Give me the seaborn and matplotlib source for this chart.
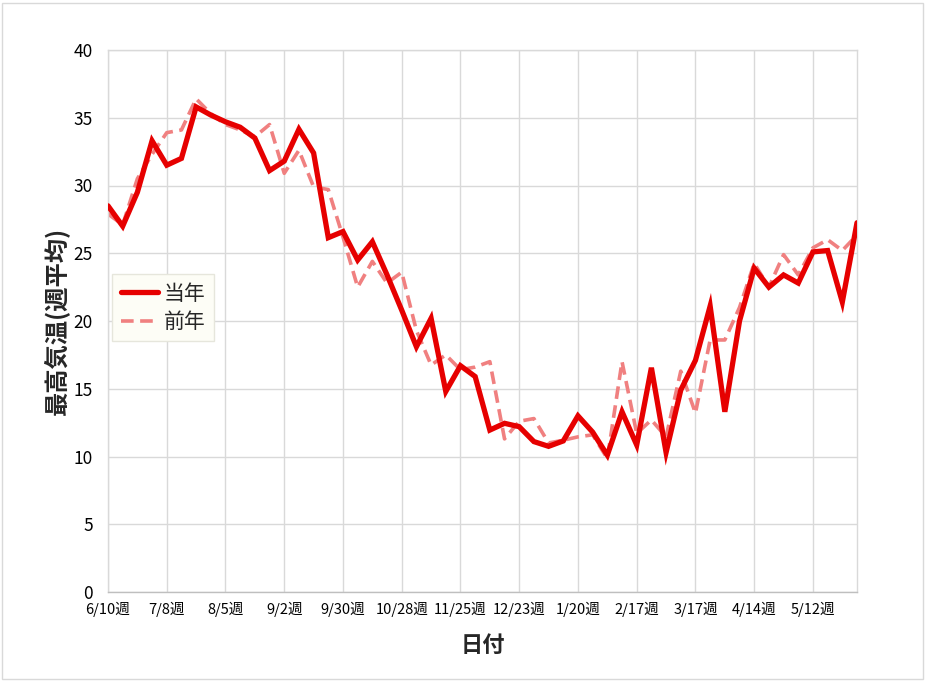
import matplotlib
matplotlib.use("Agg")
import matplotlib.pyplot as plt
from matplotlib.patches import Rectangle
import seaborn as sns
import pandas as pd
import numpy as np

# ---- data ----
weeks = pd.date_range("2024-06-10", periods=52, freq="7D")
week_labels = [f"{d.month}/{d.day}週" for d in weeks]

current_year = [28.5, 27.0, 29.5, 33.3, 31.5, 32.0, 35.8, 35.2, 34.7, 34.3,
                33.5, 31.1, 31.8, 34.15, 32.4, 26.15, 26.6, 24.5, 25.85, 23.4,
                20.8, 18.1, 20.2, 14.8, 16.7, 15.9, 11.95, 12.45, 12.2, 11.1,
                10.75, 11.15, 13.0, 11.8, 10.1, 13.3, 10.85, 16.55, 10.3, 14.9,
                17.1, 21.1, 13.3, 20.0, 23.9, 22.5, 23.4, 22.8, 25.1, 25.2,
                21.4, 27.25]
previous_year = [27.9, 27.1, 30.5, 32.3, 33.9, 34.1, 36.4, 35.3, 34.5, 34.1,
                 33.6, 34.5, 30.9, 32.6, 29.9, 29.7, 26.2, 22.5, 24.4, 22.8,
                 23.6, 19.3, 16.75, 17.5, 16.4, 16.6, 17.0, 11.3, 12.6, 12.8,
                 11.0, 11.2, 11.45, 11.6, 9.85, 17.0, 11.7, 12.7, 11.45, 16.3,
                 13.2, 18.6, 18.6, 21.0, 24.25, 22.5, 24.9, 23.4, 25.4, 26.0,
                 25.2, 26.35]
series_names = ["当年", "前年"]
y_ticks = [0, 5, 10, 15, 20, 25, 30, 35, 40]

df = pd.DataFrame({
    "idx": list(range(len(weeks))) * 2,
    "value": current_year + previous_year,
    "series": [series_names[0]] * len(weeks) + [series_names[1]] * len(weeks),
})

# ---- style ----
sns.set_style("white")
plt.rcParams["font.family"] = ["Noto Sans CJK JP", "DejaVu Sans"]

fig = plt.figure(figsize=(9.25, 6.81), dpi=100)
ax = fig.add_axes([108 / 925, 1 - 592 / 681, (857 - 108) / 925, (592 - 50) / 681])

grid_c = "#d9d9d9"
c_cur = "#e60000"
c_prev = "#f08080"

sns.lineplot(data=df[df.series == series_names[0]], x="idx", y="value",
             ax=ax, color=c_cur, linewidth=3.8, label=series_names[0],
             solid_joinstyle="miter", zorder=3)
sns.lineplot(data=df[df.series == series_names[1]], x="idx", y="value",
             ax=ax, color=c_prev, linewidth=2.6, label=series_names[1],
             dashes=(3.5, 1.8), zorder=2)

ax.set_xlim(0, len(weeks) - 1)
ax.set_ylim(0, 40)
ax.set_yticks(y_ticks)
ax.set_yticklabels([str(t) for t in y_ticks], fontsize=12.5)
tick_pos = list(range(0, len(weeks), 4))
ax.set_xticks(tick_pos)
ax.set_xticklabels([week_labels[i] for i in tick_pos], fontsize=10.5)
ax.tick_params(axis="both", length=0, colors="black")
ax.tick_params(axis="y", pad=11)
ax.tick_params(axis="x", pad=7)

ax.grid(True, color=grid_c, linewidth=1.0)
ax.set_axisbelow(True)
for s in ["left", "right", "top"]:
    ax.spines[s].set_color(grid_c)
    ax.spines[s].set_linewidth(1.0)
ax.spines["bottom"].set_color("#bfbfbf")
ax.spines["bottom"].set_linewidth(1.0)

ax.set_xlabel("日付", fontsize=16, fontweight="bold", labelpad=12)
ax.set_ylabel("最高気温(週平均)", fontsize=17.5, fontweight="bold", labelpad=3)

leg = ax.legend(loc="upper left", bbox_to_anchor=(0.006, 0.586), fontsize=15,
                frameon=True, fancybox=False, handlelength=1.8,
                borderpad=0.4, labelspacing=0.3, handletextpad=0.25,
                borderaxespad=0)
leg.get_frame().set_edgecolor("#e6e6dc")
leg.get_frame().set_facecolor("#fdfdf6")
leg.get_frame().set_alpha(1.0)

fig.patches.append(Rectangle((2 / 925, 2 / 681), 921 / 925, 676 / 681,
                             transform=fig.transFigure, fill=False,
                             edgecolor=grid_c, linewidth=1.0))

fig.savefig("out.png", dpi=100, facecolor="white")
